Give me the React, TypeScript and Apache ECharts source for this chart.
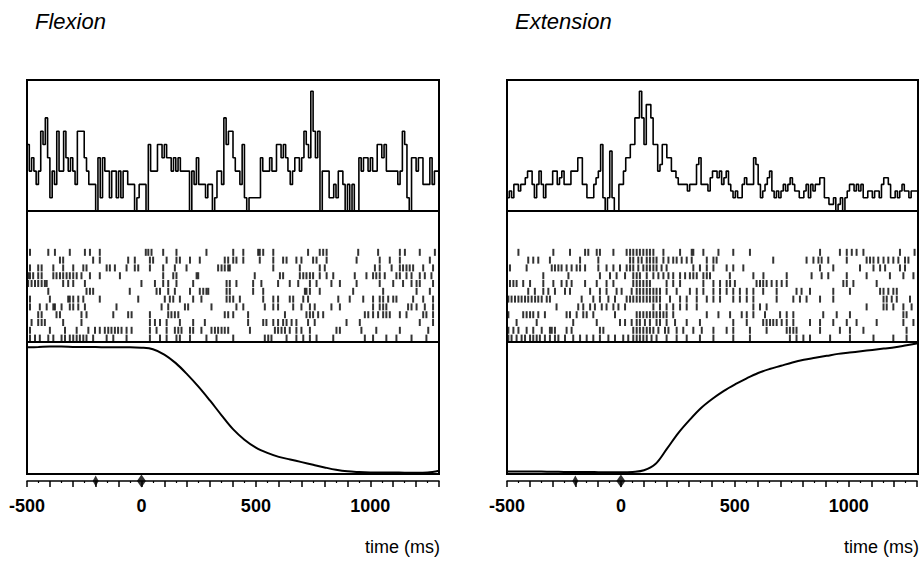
import React, { useEffect, useRef } from 'react';
import * as echarts from 'echarts';

const T_MIN = -500;
const T_MAX = 1300;
const BIN_MS = 10;

const panelTitles = ['Flexion', 'Extension'];
const axisTitle = 'time (ms)';
const tickLabels = [-500, 0, 500, 1000];
const cueTimes = [-200, 0];

// PSTH counts, 10 ms bins from -500 ms
const flexHist = [
  5,3,4,3,2,3,6,5,7,4,
  1,3,2,6,3,3,6,4,3,4,
  3,2,6,6,6,4,3,2,2,2,
  0,4,1,4,3,3,1,3,3,1,
  3,1,3,3,2,2,2,0,1,2,
  2,2,0,5,3,3,3,5,5,4,
  5,4,4,3,4,3,4,3,3,3,
  3,0,3,2,4,2,2,2,1,2,
  2,0,1,3,3,2,7,5,6,6,
  4,3,3,2,5,1,0,1,1,1,
  1,1,4,3,3,3,4,3,3,5,
  5,4,5,4,3,2,3,4,4,3,
  4,6,5,4,9,6,4,6,0,3,
  3,3,1,1,2,1,3,3,2,0,
  2,0,2,0,0,4,3,4,4,3,
  4,3,3,5,5,4,5,3,3,3,
  3,3,2,3,6,5,1,0,4,4,
  3,4,4,2,2,2,4,2,3,3,
];
const extHist = [
  1,1.5,1,2,2,1.5,2,2,2.5,3,
  3,2,1,2,3,2,1,2,2,2,
  3,3,2,2.5,3,2,2,2,3,3,
  3,4,4,2,2,1,1,1,2,2.5,
  3,5,1,0,1,4.5,1,0,0,2,
  2,3,4,4,5,5,7,7,9,7,
  5,8,8,7,5,5,3,3.5,5,5,
  4,4,3,3,2.5,2,2,2,2,1.5,
  2,2,2,3.5,4,2,2,2,1.5,2.5,
  3,3,2.5,3,2,2.5,3,2,1.5,1,
  1.5,1,1,2,2.5,2,2,2,4,3.5,
  2,1,1.5,2,2.5,3,1.5,1,1.5,1,
  1.5,2,1.5,2,2.5,2,1.5,1.5,1,1,
  1.5,2,1,2,1.5,2,2,2.5,2.5,1,
  1,0.5,0.5,1,0,0.5,1,0,1,1.5,
  2,2,1.5,2,1.5,2,1,1,1.5,1.5,
  1,1.5,1.5,1,2,2.5,2.5,2,1,1,
  1.5,1,1.5,2,1.5,1.5,1,1.5,1.5,1.5,
];

// Raster spike times (ms), trials listed top to bottom
const flexRaster = [
  [-487,-407,-378,-313,-247,-225,-182,19,30,44,95,153,284,401,445,510,517,532,576,728,779,794,809,947,1034,1129,1151,1216,1282],
  [-356,-342,-211,-182,-58,-29,37,51,110,153,168,212,255,364,379,401,415,445,517,576,619,634,677,699,750,765,809,940,1041,1085,1129,1260],
  [-487,-451,-436,-385,-342,-298,-254,-240,-152,-138,-116,-65,-29,-14,37,95,146,197,335,350,364,379,386,576,692,779,801,1020,1041,1093,1129,1143,1158,1172,1187,1231,1274],
  [-495,-487,-473,-451,-436,-385,-371,-356,-342,-327,-313,-298,-283,-262,-225,-182,-94,95,139,153,241,248,495,605,619,692,707,721,736,750,779,809,838,932,983,1012,1026,1041,1063,1114,1129,1158,1180,1216,1238,1267],
  [-495,-480,-465,-451,-436,-422,-414,-342,-320,-298,-247,0,59,95,117,153,226,372,386,415,488,524,597,648,685,736,765,830,867,940,1041,1100,1143,1180,1202,1216,1274],
  [-407,-240,-225,-211,-51,66,81,117,146,212,255,270,284,292,372,386,488,532,714,721,736,779,925,1056,1202,1260],
  [-487,-400,-320,-313,-298,-276,-254,-182,-14,102,124,139,168,226,262,372,386,401,430,532,576,597,648,663,707,728,860,910,969,1012,1041,1056,1078,1100,1114,1187,1231,1274],
  [-487,-444,-414,-385,-378,-349,-313,-298,-276,-247,-109,88,117,190,204,306,415,445,539,576,597,663,699,736,757,830,867,1012,1041,1056,1070,1165,1180,1202,1238,1274],
  [-451,-436,-371,-356,-262,-240,-123,-58,-43,37,117,131,146,161,364,379,401,466,627,721,736,750,772,794,976,991,1012,1034,1056,1070,1085,1129,1158,1231,1245,1274],
  [-480,-451,-436,-422,-342,-262,37,59,81,110,168,226,277,466,532,546,576,597,619,634,656,677,728,757,896,954,1216,1274],
  [-487,-400,-334,-283,-232,-203,-182,-160,-145,-131,-116,-102,-87,-65,-43,37,66,110,146,161,175,212,226,262,306,321,335,350,364,379,474,583,597,612,627,648,677,699,736,852,867,961,1026,1129,1253],
  [-487,-465,-444,-407,-385,-349,-334,-313,-298,-283,-269,-254,-240,-211,-152,-123,-65,37,81,110,153,168,212,284,328,401,539,554,568,634,677,707,736,765,838,976,1012,1070,1114,1180,1245],
];
const extRaster = [
  [-450,-297,-224,-158,-144,-107,-93,-34,24,39,53,68,82,97,112,126,141,185,258,309,316,360,426,491,564,871,958,988,1010,1031,1061,1221,1285],
  [-407,-385,-363,-312,-180,-100,39,53,75,90,112,126,141,155,185,207,228,243,265,287,309,375,404,418,666,812,842,864,878,907,988,1075,1090,1105,1126,1149,1170,1192,1214,1243,1258],
  [-487,-414,-304,-290,-275,-261,-239,-217,-195,-180,-158,-100,-64,-34,-5,24,39,53,75,97,112,126,141,155,177,199,316,345,375,404,462,491,535,871,929,1046,1105,1134,1156,1221,1243],
  [-341,-231,-93,-49,-20,17,53,68,82,112,141,163,185,207,228,258,280,301,316,331,360,375,389,476,579,623,725,834,878,907,988,1075,1177,1236,1280],
  [-487,-472,-458,-429,-399,-341,-297,-261,-239,-217,-158,-107,-64,-34,53,68,82,97,112,126,199,228,258,360,404,433,462,477,498,593,608,622,637,659,681,703,725,973,988,1017,1119],
  [-407,-378,-341,-319,-290,-246,-224,-136,-93,-64,-20,2,46,68,82,97,112,126,141,155,170,199,243,301,331,360,404,433,462,491,520,550,579,622,681,768,790,827,929,1002,1134,1149,1170,1192,1207],
  [-494,-480,-465,-450,-436,-421,-407,-392,-377,-363,-348,-326,-312,-173,-122,-93,-56,-27,24,39,53,68,82,97,112,126,141,155,170,214,258,287,331,375,404,433,491,520,550,579,681,754,783,812,871,929,1149,1163,1185,1207,1265],
  [-283,-188,-166,-136,-115,-85,-64,-34,-12,17,141,170,199,228,258,287,331,579,608,637,1075,1149,1163,1192,1236,1272],
  [-494,-429,-414,-399,-385,-363,-334,-239,-224,-195,-166,-151,-122,-27,68,82,97,112,126,141,155,170,185,199,228,375,426,477,528,550,579,630,696,725,754,885,944,1002,1236,1250],
  [-458,-370,-210,-107,-5,17,46,68,82,104,126,155,170,199,236,287,345,491,550,622,637,652,666,681,703,725,754,827,871,929,988,1031,1119,1236,1280],
  [-494,-472,-450,-414,-385,-348,-312,-304,-290,-239,-217,-93,-78,53,68,82,97,112,126,141,163,192,207,243,272,316,353,404,462,491,564,637,725,739,754,768,871,958,1002,1061,1250],
  [-494,-480,-458,-436,-421,-399,-385,-370,-356,-334,-312,-290,-275,-246,-210,-180,-151,-122,-93,-56,-27,9,31,53,68,82,97,112,133,155,199,243,287,345,404,491,564,739,768,798,827,915,1002,1105,1192,1250],
];

// Joint position traces (% of range), sampled every 50 ms from -500 to 1300
const posTimes = [
  -500,-450,-400,-350,-300,-250,-200,-150,-100,-50,0,50,100,150,200,250,300,350,400,
  450,500,550,600,650,700,750,800,850,900,950,1000,1050,1100,1150,1200,1250,1300,
];
const flexPos = [
  96,96.2,96.5,96.5,96.3,96.2,96.2,96,96,96,95.7,94.5,90.5,84,75.5,66,55.5,44.5,34,
  26,20,16,13,11,9,7,5,3.2,2,1.5,1.2,1.1,1.1,1,1,1.2,2.5,
];
const extPos = [
  1.8,1.8,1.9,1.8,1.7,1.6,1.5,1.5,1.4,1.3,1.3,1.6,2.8,7.5,19,31,41,50,57,
  63,68,72.5,76.5,79.5,82,84.5,86.5,88,89.5,91,92,93,94,95,96,97.5,99,
];

const FONT = "'Liberation Sans', Arial, Helvetica, sans-serif";

function buildOption() {
  const panels = [
    { left: 27, width: 412, hist: flexHist, raster: flexRaster, pos: flexPos, title: panelTitles[0] },
    { left: 507, width: 411, hist: extHist, raster: extRaster, pos: extPos, title: panelTitles[1] },
  ];
  const grids: any[] = [];
  const xAxes: any[] = [];
  const yAxes: any[] = [];
  const series: any[] = [];
  const graphic: any[] = [];

  const rows = [
    { top: 80, height: 131, yMax: 9.85 },
    { top: 211, height: 131, yMax: 16.8 },
    { top: 342, height: 132, yMax: 100 },
  ];

  panels.forEach((p, pi) => {
    const base = pi * 4;
    rows.forEach((r) => {
      grids.push({
        left: p.left, width: p.width, top: r.top, height: r.height,
        show: true, borderColor: '#000', borderWidth: 2, backgroundColor: 'transparent',
        containLabel: false,
      });
      xAxes.push({ type: 'value', gridIndex: grids.length - 1, min: T_MIN, max: T_MAX, interval: 100, show: false });
      yAxes.push({ type: 'value', gridIndex: grids.length - 1, min: 0, max: r.yMax, show: false });
    });
    grids.push({ left: p.left, width: p.width, top: 474, height: 7, show: false });
    xAxes.push({
      type: 'value', gridIndex: base + 3, min: T_MIN, max: T_MAX, interval: 100,
      position: 'bottom',
      axisLine: { show: true, lineStyle: { color: '#000', width: 1.5 } },
      axisTick: { show: true, length: 6, inside: false, lineStyle: { color: '#000', width: 1.5 } },
      minorTick: { show: true, splitNumber: 2, length: 2, lineStyle: { color: '#000', width: 1.2 } },
      splitLine: { show: false },
      minorSplitLine: { show: false },
      axisLabel: {
        show: true, margin: 16, color: '#000', fontFamily: FONT, fontSize: 18, fontWeight: 'bold',
        formatter: (v: number) => (tickLabels.indexOf(v) >= 0 ? String(v) : ''),
        showMinLabel: true, showMaxLabel: true, hideOverlap: false,
      },
    });
    yAxes.push({ type: 'value', gridIndex: base + 3, min: 0, max: 1, show: false });

    const histData: number[][] = p.hist.map((v, i) => [T_MIN + i * BIN_MS, v]);
    histData.push([T_MAX, p.hist[p.hist.length - 1]]);
    series.push({
      type: 'line', xAxisIndex: base, yAxisIndex: base, step: 'end', symbol: 'none',
      lineStyle: { color: '#000', width: 1.6 }, data: histData, animation: false,
    });
    const nRows = p.raster.length;
    const rasterData: number[][] = [];
    p.raster.forEach((row, ri) => row.forEach((t) => rasterData.push([t, nRows - ri - 0.5])));
    series.push({
      type: 'scatter', xAxisIndex: base + 1, yAxisIndex: base + 1, symbol: 'rect',
      symbolSize: [2, 7], itemStyle: { color: '#000' }, data: rasterData, animation: false,
    });
    series.push({
      type: 'line', xAxisIndex: base + 2, yAxisIndex: base + 2, symbol: 'none', smooth: 0.35,
      lineStyle: { color: '#000', width: 2 }, data: posTimes.map((t, i) => [t, p.pos[i]]), animation: false,
    });
    series.push({
      type: 'scatter', xAxisIndex: base + 3, yAxisIndex: base + 3, symbol: 'diamond', clip: false,
      itemStyle: { color: '#000' },
      data: cueTimes.map((t, i) => ({ value: [t, 0], symbolSize: i === 0 ? [6, 11] : [9, 13] })),
      animation: false,
    });

    graphic.push({
      type: 'text', left: p.left + 8, top: 10,
      style: { text: p.title, font: `italic 22px ${FONT}`, fill: '#000' },
    });
    graphic.push({
      type: 'text', right: 920 - (p.left + p.width) - 1, top: 538,
      style: { text: axisTitle, font: `18px ${FONT}`, fill: '#000' },
    });
  });

  return { animation: false, backgroundColor: '#fff', grid: grids, xAxis: xAxes, yAxis: yAxes, series, graphic };
}

export default function App() {
  const ref = useRef<HTMLDivElement>(null);
  useEffect(() => {
    const chart = echarts.init(ref.current!, null, { renderer: 'svg' });
    chart.setOption(buildOption() as any);
    return () => chart.dispose();
  }, []);
  return <div ref={ref} style={{ position: 'absolute', left: 0, top: 0, width: 920, height: 566 }} />;
}
